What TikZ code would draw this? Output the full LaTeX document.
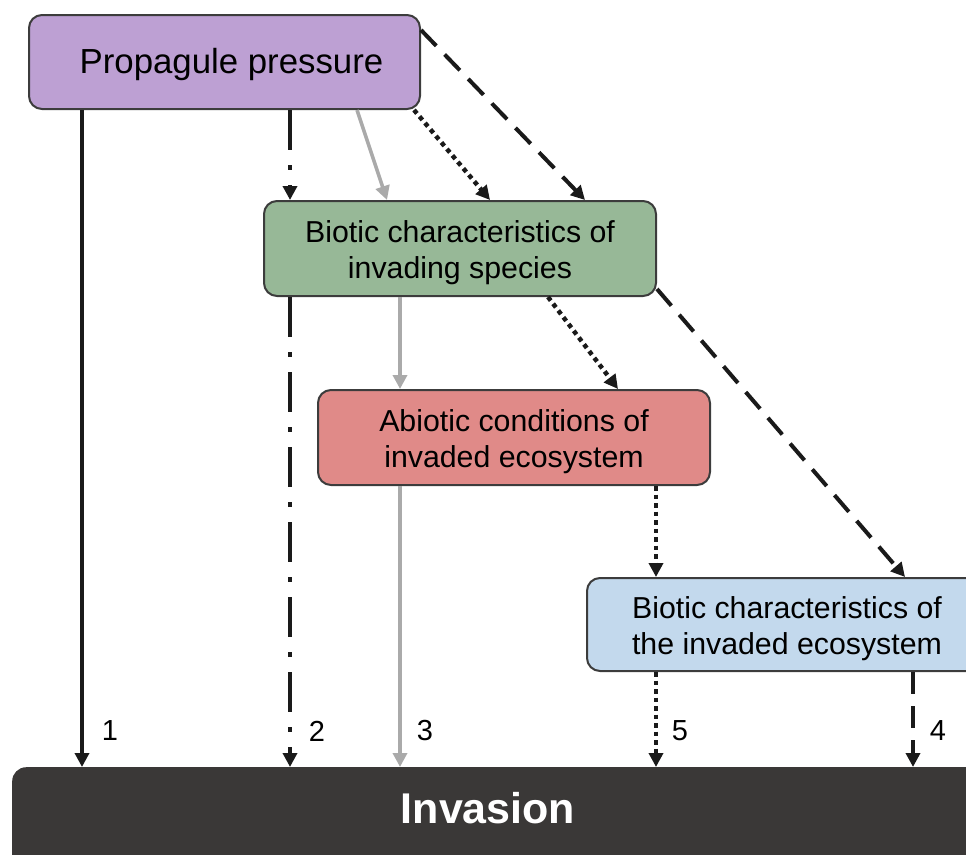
\documentclass[tikz,border=0pt]{standalone}
\usepackage{fontspec}
\setmainfont{Liberation Sans}
\usetikzlibrary{arrows.meta}
\definecolor{ppfill}{HTML}{BDA0D3}
\definecolor{bifill}{HTML}{97B897}
\definecolor{abfill}{HTML}{E08A88}
\definecolor{befill}{HTML}{C3D9ED}
\definecolor{invfill}{HTML}{3A3837}
\definecolor{boxline}{HTML}{3C3C3C}
\definecolor{greyarrow}{HTML}{AAAAAA}
\definecolor{blackarrow}{HTML}{1A1A1A}
\newcommand{\topstrut}[1]{\rule{0pt}{#1}}
\tikzset{
  box/.style={draw=boxline, line width=2pt, rounded corners=13pt, anchor=north west,
    align=center, inner sep=0pt, font=\fontsize{30.3}{36}\selectfont},
  conn/.style={line width=4pt, draw=blackarrow, -{Triangle[length=14pt,width=14pt]}},
  solidconn/.style={conn},
  dashdotconn/.style={conn, dash pattern=on 40pt off 15pt on 5pt off 15pt},
  greyconn/.style={conn, draw=greyarrow, line width=3.5pt, -{Triangle[length=14pt,width=14pt]}},
  dottedconn/.style={conn, line width=4.5pt, dash pattern=on 4.5pt off 4pt},
  dashedconn/.style={conn, dash pattern=on 22pt off 12pt},
  numlabel/.style={font=\fontsize{29}{34}\selectfont, inner sep=0pt}
}
\begin{document}
\begin{tikzpicture}[x=1pt, y=-1pt]
\useasboundingbox (0,0) rectangle (966,854);
\clip (0,0) rectangle (966,854);
% nodes
\node[box, fill=ppfill, minimum width=391pt, minimum height=94pt, font=\fontsize{34.8}{40}\selectfont] (pp) at (28,14) {\hspace*{14pt}\topstrut{30pt}Propagule pressure};
\node[box, fill=bifill, minimum width=392pt, minimum height=95pt] (bi) at (263,200) {\topstrut{30pt}Biotic characteristics of\\invading species};
\node[box, fill=abfill, minimum width=392pt, minimum height=95pt] (ab) at (317,389) {\topstrut{30pt}Abiotic conditions of\\invaded ecosystem};
\node[box, fill=befill, minimum width=400pt, minimum height=93pt] (be) at (586,577) {\topstrut{30pt}Biotic characteristics of\\the invaded ecosystem};
\node[draw=none, fill=invfill, rounded corners=14pt, anchor=north west, minimum width=968pt, minimum height=110pt, inner sep=0pt] (inv) at (12,767) {};
\node[text=white, font=\fontsize{43}{50}\selectfont\bfseries, inner sep=0pt] (invtext) at (488,808) {Invasion};
% path 1
\draw[solidconn] ([xshift=54pt]pp.south west) -- ([xshift=70pt]inv.north west);
% path 2
\draw[dashdotconn] ([xshift=262pt]pp.south west) -- ([xshift=27pt]bi.north west);
\draw[dashdotconn] ([xshift=27pt]bi.south west) -- ([xshift=278pt]inv.north west);
% path 3
\draw[greyconn] ([xshift=329pt]pp.south west) -- ([xshift=124pt]bi.north west);
\draw[greyconn] ([xshift=137pt]bi.south west) -- ([xshift=83pt]ab.north west);
\draw[greyconn] ([xshift=83pt]ab.south west) -- ([xshift=388pt]inv.north west);
% path 4
\draw[dashedconn] ([yshift=-16pt]pp.north east) -- ([xshift=322pt]bi.north west);
\draw[dashedconn] ([yshift=8pt]bi.south east) -- ([xshift=319pt]be.north west);
\draw[dashedconn] ([xshift=327pt]be.south west) -- ([xshift=901pt]inv.north west);
% path 5
\draw[dottedconn] ([xshift=-7pt]pp.south east) -- ([xshift=227pt]bi.north west);
\draw[dottedconn] ([xshift=285pt]bi.south west) -- ([xshift=301pt]ab.north west);
\draw[dottedconn] ([xshift=339pt]ab.south west) -- ([xshift=70pt]be.north west);
\draw[dottedconn] ([xshift=70pt]be.south west) -- ([xshift=644pt]inv.north west);
% labels
\node[numlabel] (l1) at (110,731) {1};
\node[numlabel] (l2) at (317,731) {2};
\node[numlabel] (l3) at (425,731) {3};
\node[numlabel] (l5) at (680,731) {5};
\node[numlabel] (l4) at (938,731) {4};
\end{tikzpicture}
\end{document}
